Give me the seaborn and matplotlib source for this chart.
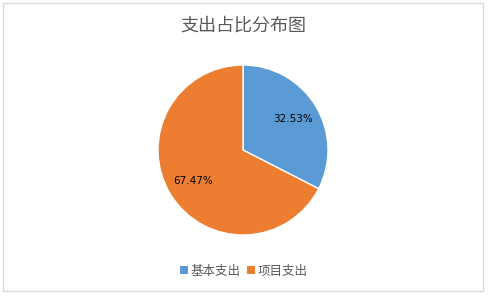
import matplotlib
matplotlib.use("Agg")
import matplotlib.pyplot as plt
import seaborn as sns
from matplotlib.patches import Rectangle, Patch

categories = ["基本支出", "项目支出"]
values = [32.53, 67.47]
colors = ["#5B9BD5", "#ED7D31"]
title = "支出占比分布图"

sns.set_theme(style="white")
plt.rcParams['font.family'] = ['Noto Sans CJK SC', 'DejaVu Sans']

W, H = 489, 297
fig = plt.figure(figsize=(W / 100, H / 100), dpi=100)
fig.patch.set_facecolor("white")

# border
fig.patches.append(Rectangle((3 / W, 1 - 291 / H), 480 / W, 288 / H,
                             transform=fig.transFigure, fill=False,
                             edgecolor="#D9D9D9", linewidth=1.0))

cx, cy, r = 243, 150, 85
ax = fig.add_axes([(cx - r) / W, 1 - (cy + r) / H, 2 * r / W, 2 * r / H])
wedges, texts, autotexts = ax.pie(
    values, colors=colors, startangle=90, counterclock=False,
    autopct="%.2f%%", pctdistance=0.69, radius=1.0,
    wedgeprops=dict(edgecolor="white", linewidth=1.0),
    textprops=dict(fontsize=7.5, color="black", family="DejaVu Sans"))
ax.set_xlim(-1, 1)
ax.set_ylim(-1, 1)
ax.set_aspect("equal")
ax.axis("off")

fig.text(cx / W, 1 - 26 / H, title, ha="center", va="center",
         fontsize=13, color="#595959")

handles = [Patch(facecolor=c, edgecolor="none") for c in colors]
fig.legend(handles, categories, loc="center", bbox_to_anchor=(244 / W, 1 - 271 / H),
           ncol=2, frameon=False, fontsize=9, handlelength=0.65, handleheight=0.65,
           handletextpad=0.2, columnspacing=0.5, labelcolor="#595959")

fig.savefig("out.png", dpi=100, facecolor="white")
